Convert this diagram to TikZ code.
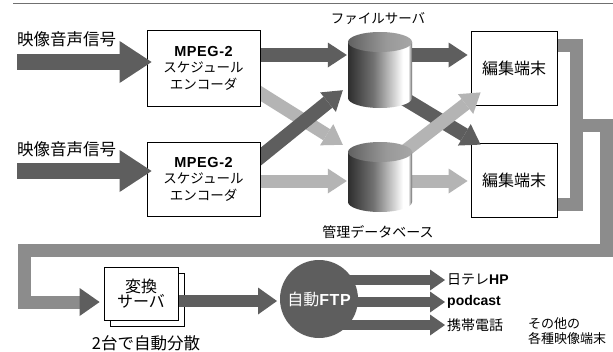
\documentclass[tikz,border=0pt]{standalone}
\usepackage{fontspec}
\setmainfont{Noto Sans CJK JP}
\newfontfamily\latinb{Liberation Sans}[LetterSpace=4]
\newfontfamily\latinc{Liberation Sans}
\usetikzlibrary{arrows.meta,calc}
\definecolor{darkar}{HTML}{5E5E5E}
\definecolor{lightar}{HTML}{B4B4B4}
\definecolor{bandc}{HTML}{8C8C8C}
\definecolor{topline}{HTML}{707070}
\pgfdeclarehorizontalshading{cylbody}{100bp}{color(0bp)=(black!82); color(25bp)=(black!82); color(45bp)=(black!55); color(62bp)=(black!15); color(68bp)=(white); color(72bp)=(white); color(75bp)=(black!60); color(100bp)=(black!60)}
\pgfdeclarehorizontalshading{cyltop}{100bp}{color(0bp)=(black!62); color(25bp)=(black!62); color(55bp)=(black!40); color(75bp)=(black!35); color(100bp)=(black!35)}
\tikzset{
  box/.style={draw=black, fill=white, line width=0.8pt, inner sep=0pt, align=center},
  bigar/.style={draw=darkar, line width=16pt, -{Triangle[width=42pt,length=32pt,line width=0pt]}},
  darrow/.style={draw=darkar, line width=14pt, -{Triangle[width=25pt,length=19pt,line width=0pt]}},
  larrow/.style={draw=lightar, line width=13pt, -{Triangle[width=25pt,length=19pt,line width=0pt]}},
  outar/.style={draw=darkar, line width=10pt, -{Triangle[width=21pt,length=15pt,line width=0pt]}},
  bandline/.style={draw=bandc, line width=13pt, line join=miter},
  lbl/.style={inner sep=0pt},
  encfont/.style={font=\fontsize{13.5}{16.5}\selectfont},
  bigfont/.style={font=\fontsize{16}{17}\selectfont},
}
\newcommand{\mycyl}[4]{%
  \shade[shading=cylbody] (#1-32,#2) -- (#1-32,#3) arc[start angle=180, end angle=360, x radius=32pt, y radius=10pt] -- (#1+32,#2) -- cycle;
  \shade[shading=cyltop] (#1,#2) ellipse [x radius=32pt, y radius=10pt];
  \node[inner sep=0pt, minimum width=64pt, minimum height=#3-#2+20pt] (#4) at (#1,{(#2+#3)/2}) {};
}
\begin{document}
\begin{tikzpicture}[x=1pt,y=-1pt]
\useasboundingbox (0,0) rectangle (613,351);
\fill[white] (0,0) rectangle (613,351);
% top rule
\coordinate (tl) at (13,3.5);
\coordinate (tr) at (613,3.5);
\draw[topline, line width=1.4pt] (tl) -- (tr);

% node placeholders for positions
\node[box, minimum width=113pt, minimum height=76pt] (enc1) at (203.5,68) {};
\node[box, minimum width=113pt, minimum height=74pt] (enc2) at (203.5,179) {};
\node[inner sep=0pt, minimum width=64pt, minimum height=76pt] (fs) at (380,70) {};
\node[inner sep=0pt, minimum width=64pt, minimum height=70pt] (db) at (380,177) {};

% bracket from editing terminals
\coordinate (b1) at (550,45.5);
\coordinate (b2) at (576.5,45.5);
\coordinate (b3) at (576.5,204.5);
\coordinate (b4) at (550,204.5);
\draw[bandline] (b1) -- (b2) -- (b3) -- (b4);
\coordinate (c1) at (576.5,125.5);
\coordinate (c2) at (606.5,125.5);
\coordinate (c3) at (606.5,250.5);
\coordinate (c4) at (24.5,250.5);
\coordinate (c5) at (24.5,302);
\coordinate (c6) at (82,302);
\draw[bandline] (c1) -- (c2) -- (c3) -- (c4) -- (c5) -- (c6);

% editing terminals
\node[box, minimum width=86pt, minimum height=74pt, bigfont] (edit1) at (514,68) {編集端末};
\node[box, minimum width=86pt, minimum height=74pt, bigfont] (edit2) at (514,180) {編集端末};

% arrows in the middle
\draw[darrow] ($(enc1.east)+(-5,-13)$) -- ($(fs.west)+(-1,-15)$);
\draw[darrow] ($(fs.east)+(-5,-15)$) -- ($(edit1.west)+(-3,-13)$);
\draw[larrow] ($(enc2.east)+(-5,2)$) -- ($(db.west)+(-1,4)$);
\draw[larrow] ($(db.east)+(-5,4)$) -- ($(edit2.west)+(-3,1)$);
\draw[larrow] ($(enc1.east)+(-10,19)$) -- ($(db.north west)+(-5,3)$);
\draw[darrow] ($(enc2.east)+(-10,-14)$) -- ($(fs.south west)+(-5,-18)$);
\draw[darrow] ($(fs.south)+(15,-15)$) -- ($(edit2.north west)+(10,2)$);
\draw[larrow] ($(db.north)+(20,13)$) -- ($(edit1.south west)+(10,-13)$);

% cylinders
\mycyl{380}{42}{98}{fsc}
\mycyl{380}{152}{202}{dbc}
\node[lbl, font=\fontsize{13.5}{14}\selectfont] (fslbl) at (378,19) {ファイルサーバ};
\node[lbl, font=\fontsize{14}{15}\selectfont] (dblbl) at (378,232) {管理データベース};

% encoders
\node[box, minimum width=113pt, minimum height=76pt, encfont] (enc1b) at (203.5,68) {{\latinb\bfseries\fontsize{14.5}{16.5}\selectfont MPEG-2}\\スケジュール\\エンコーダ};
\node[box, minimum width=113pt, minimum height=74pt, encfont] (enc2b) at (203.5,179) {{\latinb\bfseries\fontsize{14.5}{16.5}\selectfont MPEG-2}\\スケジュール\\エンコーダ};

% inputs
\node[lbl, anchor=west, font=\fontsize{16.5}{17}\selectfont] (in1lbl) at (17,39) {映像音声信号};
\node[lbl, anchor=west, font=\fontsize{16.5}{17}\selectfont] (in2lbl) at (17,149) {映像音声信号};
\coordinate (s1) at (17,62);
\coordinate (s2) at (17,171);
\draw[bigar] (s1) -- ($(enc1b.west)+(5,-6)$);
\draw[bigar] (s2) -- ($(enc2b.west)+(5,-8)$);

% bottom row
\node[box, minimum width=74pt, minimum height=53pt] (convback) at (147,299.5) {};
\draw[darrow, line width=12pt, -{Triangle[width=27pt,length=19pt,line width=0pt]}] ($(convback.east)+(-8,1.5)$) -- (277,301) coordinate (ftptip);
\node[box, minimum width=74pt, minimum height=53pt, font=\fontsize{16}{15}\selectfont] (conv) at (141,293.5) {変換\\サーバ};
\fill[darkar] ($(conv.west)+(-24,-5.5)$) -- ($(conv.west)+(-4,8.5)$) -- ($(conv.west)+(-24,22.5)$) -- cycle;
\node[lbl, font=\fontsize{16.5}{17}\selectfont] (convlbl) at (146,343) {2台で自動分散};

% outputs
\node[lbl, anchor=west, font=\fontsize{14}{15}\selectfont] (hp) at (447,280) {日テレ{\latinc\bfseries HP}};
\node[lbl, anchor=west, font=\fontsize{14}{15}\selectfont] (pod) at (447,302) {{\latinc\bfseries podcast}};
\node[lbl, anchor=west, font=\fontsize{14}{15}\selectfont] (mob) at (447,325) {携帯電話};
\node[lbl, align=left, anchor=west, font=\fontsize{13}{14.5}\selectfont] (other) at (528,331) {その他の\\各種映像端末};
\coordinate (o1) at (330,280);
\coordinate (o2) at (330,302);
\coordinate (o3) at (330,325);
\draw[outar] (o1) -- ($(hp.west)+(-2,0)$);
\draw[outar] (o2) -- ($(pod.west)+(-2,0)$);
\draw[outar] (o3) -- ($(mob.west)+(-2,0)$);
\node[circle, fill=darkar, minimum size=78pt, inner sep=0pt, text=white, font=\fontsize{16}{17}\selectfont] (ftp) at (319,299) {自動{\latinb\bfseries FTP}};
\end{tikzpicture}
\end{document}
